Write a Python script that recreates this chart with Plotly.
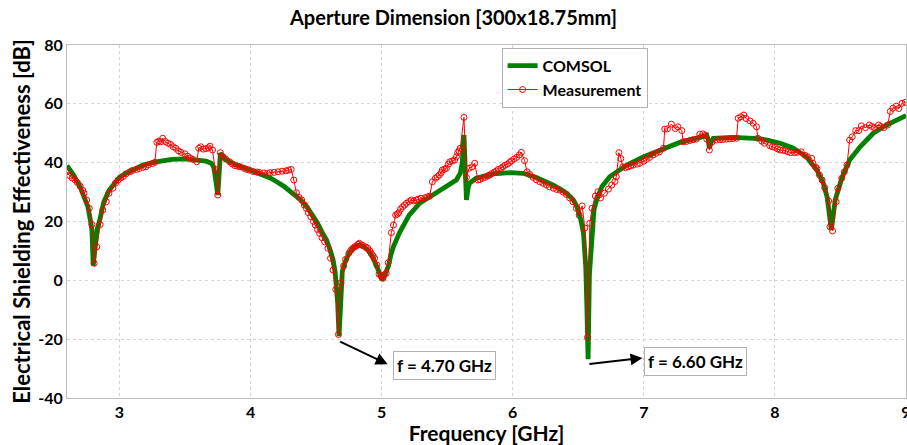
import plotly.graph_objects as go

comsol_f = [2.60, 2.65, 2.70, 2.73, 2.76, 2.78, 2.79, 2.80, 2.81, 2.83, 2.85, 2.88, 2.92, 2.96,
            3.00, 3.05, 3.10, 3.18, 3.28, 3.40, 3.50, 3.60, 3.66, 3.70, 3.72, 3.735, 3.75, 3.76,
            3.77, 3.80, 3.85, 3.92, 4.00, 4.07, 4.15, 4.20, 4.26, 4.32, 4.38, 4.43, 4.47, 4.51,
            4.55, 4.58, 4.61, 4.63, 4.645, 4.655, 4.665, 4.675, 4.685, 4.69, 4.70, 4.72, 4.75,
            4.79, 4.83, 4.87, 4.90, 4.93, 4.96, 4.98, 5.00, 5.015, 5.03, 5.05, 5.07, 5.09, 5.14,
            5.21, 5.29, 5.39, 5.49, 5.57, 5.60, 5.615, 5.628, 5.638, 5.647, 5.66, 5.67, 5.72,
            5.78, 5.85, 5.98, 6.08, 6.18, 6.25, 6.31, 6.41, 6.46, 6.49, 6.52, 6.54, 6.557, 6.565,
            6.575, 6.585, 6.595, 6.61, 6.62, 6.64, 6.68, 6.74, 6.82, 6.87, 7.00, 7.12, 7.27,
            7.43, 7.48, 7.49, 7.50, 7.515, 7.53, 7.68, 7.83, 7.88, 7.95, 8.04, 8.14, 8.24, 8.32,
            8.37, 8.40, 8.42, 8.43, 8.445, 8.46, 8.51, 8.57, 8.65, 8.75, 8.85, 8.92, 9.00]
comsol_db = [39.0, 35.8, 31.8, 28.5, 25.0, 20.0, 17.0, 5.0, 10.0, 17.5, 20.5, 26.5, 30.5, 33.0,
             35.0, 36.4, 37.6, 39.2, 40.3, 41.1, 41.3, 41.0, 40.5, 39.8, 38.5, 34.0, 29.0, 36.0,
             43.2, 41.5, 40.0, 38.8, 37.5, 36.3, 34.8, 33.5, 31.8, 29.6, 27.5, 25.0, 22.5, 19.5,
             16.0, 13.7, 10.0, 6.9, 3.0, -2.0, -8.0, -19.0, -6.0, 0.0, 3.0, 6.0, 9.2,
             11.3, 12.0, 11.2, 10.0, 8.0, 5.5, 3.0, 0.2, 1.0, 2.5, 4.6, 8.5, 11.5, 16.5,
             22.2, 26.2, 29.0, 31.8, 34.1, 36.4, 40.0, 49.4, 38.0, 27.3, 31.5, 33.0, 34.7,
             35.5, 36.2, 36.6, 36.4, 35.0, 33.8, 32.4, 29.6, 27.5, 25.0, 20.5, 16.0, 4.6, -8.0,
             -26.8, 2.0, 10.0, 19.0, 24.0, 27.3, 31.8, 35.2, 37.5, 39.2, 42.0, 44.3, 46.8,
             48.6, 49.3, 48.0, 44.9, 47.0, 48.3, 48.6, 48.5, 48.2, 47.6, 46.6, 44.9, 42.0, 37.5,
             33.0, 28.0, 22.0, 17.1, 22.0, 27.3, 34.7, 40.9, 45.4, 50.0, 52.8, 54.5, 56.0]

meas_f = [2.60, 2.62, 2.64, 2.66, 2.68, 2.70, 2.72, 2.73, 2.75, 2.77, 2.79, 2.807, 2.827, 2.853,
          2.873, 2.90, 2.92, 2.95, 2.97, 2.99, 3.01, 3.03, 3.05, 3.08, 3.10, 3.13, 3.15, 3.18,
          3.20, 3.22, 3.25, 3.27, 3.285, 3.30, 3.315, 3.33, 3.35, 3.37, 3.39, 3.41, 3.43, 3.45,
          3.47, 3.50, 3.52, 3.54, 3.56, 3.59, 3.605, 3.62, 3.64, 3.66, 3.68, 3.69, 3.71, 3.73,
          3.75, 3.77, 3.79, 3.81, 3.84, 3.86, 3.88, 3.90, 3.92, 3.95, 3.97, 3.99, 4.02, 4.05,
          4.07, 4.10, 4.13, 4.15, 4.18, 4.21, 4.24, 4.27, 4.29, 4.31, 4.33, 4.35, 4.37, 4.39,
          4.41, 4.425, 4.44, 4.46, 4.48, 4.494, 4.51, 4.527, 4.545, 4.565, 4.59, 4.61, 4.63,
          4.65, 4.67, 4.69, 4.71, 4.725, 4.75, 4.765, 4.78, 4.795, 4.807, 4.82, 4.83, 4.845,
          4.86, 4.88, 4.895, 4.91, 4.92, 4.935, 4.946, 4.964, 4.98, 4.995, 5.01, 5.02, 5.035,
          5.05, 5.074, 5.09, 5.107, 5.12, 5.13, 5.145, 5.16, 5.175, 5.19, 5.21, 5.227, 5.245,
          5.265, 5.28, 5.30, 5.33, 5.35, 5.366, 5.387, 5.41, 5.425, 5.44, 5.455, 5.463, 5.48,
          5.494, 5.51, 5.52, 5.54, 5.557, 5.57, 5.58, 5.59, 5.60, 5.628, 5.647, 5.667, 5.69,
          5.71, 5.735, 5.75, 5.77, 5.79, 5.81, 5.824, 5.84, 5.86, 5.875, 5.89, 5.91, 5.926,
          5.94, 5.96, 5.977, 5.99, 6.01, 6.03, 6.05, 6.066, 6.09, 6.11, 6.13, 6.155, 6.18,
          6.206, 6.23, 6.257, 6.28, 6.31, 6.335, 6.36, 6.385, 6.41, 6.435, 6.46, 6.485, 6.507,
          6.53, 6.55, 6.57, 6.588, 6.605, 6.63, 6.65, 6.67, 6.70, 6.73, 6.755, 6.78, 6.79,
          6.81, 6.825, 6.84, 6.86, 6.88, 6.90, 6.92, 6.95, 6.97, 7.00, 7.02, 7.045, 7.07, 7.095,
          7.12, 7.15, 7.16, 7.18, 7.21, 7.24, 7.26, 7.29, 7.30, 7.325, 7.35, 7.375, 7.40, 7.427,
          7.45, 7.47, 7.48, 7.50, 7.52, 7.555, 7.58, 7.605, 7.63, 7.655, 7.68, 7.707, 7.72,
          7.74, 7.763, 7.78, 7.81, 7.834, 7.86, 7.87, 7.90, 7.92, 7.96, 7.98, 8.00, 8.02, 8.04,
          8.06, 8.08, 8.10, 8.12, 8.15, 8.17, 8.20, 8.23, 8.25, 8.28, 8.29, 8.31, 8.32, 8.34,
          8.36, 8.38, 8.41, 8.42, 8.44, 8.467, 8.48, 8.51, 8.53, 8.55, 8.57, 8.59, 8.616, 8.64,
          8.66, 8.69, 8.72, 8.74, 8.76, 8.79, 8.81, 8.83, 8.86, 8.88, 8.90, 8.925, 8.945, 8.97,
          8.995]
meas_db = [36.9, 35.6, 34.8, 34.2, 33.2, 32.0, 30.6, 29.6, 27.3, 24.5, 19.0, 5.8, 11.4, 19.0,
           23.9, 26.7, 29.6, 31.3, 33.0, 34.1, 34.8, 35.3, 36.2, 36.9, 37.4, 37.7, 38.0, 38.4,
           38.6, 39.2, 39.7, 40.1, 46.9, 47.3, 47.1, 48.3, 47.2, 46.6, 46.2, 45.4, 44.9, 44.0,
           43.5, 43.0, 42.2, 41.6, 41.1, 40.3, 44.9, 45.4, 44.6, 44.8, 45.0, 45.6, 44.3, 37.7,
           29.0, 43.4, 42.0, 41.3, 40.3, 39.6, 39.0, 38.8, 38.6, 38.1, 37.7, 37.5, 37.0, 36.8,
           36.6, 36.5, 36.4, 36.6, 36.7, 36.9, 37.1, 37.2, 37.5, 37.7, 34.1, 29.8, 28.2, 27.3,
           25.6, 24.5, 23.0, 21.6, 20.0, 18.8, 17.3, 16.0, 14.5, 13.1, 10.9, 7.5, 3.5,
           -3.1, -18.4, -0.8, 4.9, 7.1, 9.2, 10.2, 10.9, 11.4, 11.7, 12.2, 12.6, 12.1,
           11.8, 11.3, 10.9, 10.0, 9.2, 8.3, 7.5, 5.2, 2.1, 1.5, 0.7, 1.8, 2.4,
           6.0, 16.2, 18.8, 22.2, 22.5, 23.0, 24.2, 25.0, 25.6, 26.2, 26.8, 27.3, 27.0,
           27.3, 27.6, 27.9, 28.1, 28.4, 28.6, 33.5, 34.7, 35.2, 35.8, 36.6, 37.5, 37.8,
           38.1, 39.5, 40.3, 40.6, 40.9, 42.0, 43.4, 44.0, 44.9, 55.4, 35.0, 38.1, 38.6,
           39.8, 34.1, 34.3, 34.7, 35.0, 35.5, 35.8, 36.3, 36.8, 37.2, 37.7, 38.1, 38.6,
           39.1, 39.5, 40.1, 40.6, 41.2, 41.8, 42.6, 43.5, 40.7, 36.9, 36.0, 35.0, 34.2,
           33.5, 33.0, 32.4, 31.8, 31.3, 30.9, 30.7, 30.0, 29.2, 28.0, 26.7, 24.5, 22.2,
           25.3, 17.8, -19.4, 19.4, 24.5, 28.7, 30.1, 28.0, 29.6, 31.0, 32.4, 33.6, 35.2,
           43.4, 41.4, 38.6, 38.3, 38.6, 38.9, 39.2, 39.5, 39.8, 40.5, 41.1, 41.8, 42.6, 43.2,
           43.7, 44.9, 51.4, 51.5, 53.1, 51.6, 52.2, 50.9, 47.1, 47.2, 47.5, 47.8, 48.0, 49.7,
           49.8, 49.3, 48.0, 44.3, 47.0, 47.7, 47.8, 47.9, 48.0, 48.1, 48.2, 48.3, 55.1,
           55.6, 56.2, 55.0, 54.2, 53.4, 52.2, 48.3, 47.3, 46.6, 45.8, 45.4, 45.2, 44.7, 44.3,
           44.2, 44.1, 43.7, 43.4, 43.4, 43.5, 43.7, 42.5, 42.0, 41.5, 39.8, 38.5, 38.0, 35.8,
           34.1, 31.5, 27.0, 18.2, 16.8, 26.7, 31.3, 34.7, 36.9, 39.2, 47.7, 48.8, 50.9, 50.9,
           52.5, 51.9, 52.8, 52.3, 51.9, 52.8, 52.3, 51.9, 52.8, 57.4, 58.5, 59.2, 58.4, 60.2,
           60.5]

x_ticks = [3, 4, 5, 6, 7, 8, 9]
y_ticks = [-40, -20, 0, 20, 40, 60, 80]

FONT = "Lato"
W = 700

fig = go.Figure()
fig.add_trace(go.Scatter(x=comsol_f, y=comsol_db, mode="lines", name="COMSOL",
                         line=dict(color="#008000", width=4.8)))
fig.add_trace(go.Scatter(x=meas_f, y=meas_db, mode="lines+markers", name="Measurement",
                         line=dict(color="#ff0000", width=1),
                         marker=dict(symbol="circle-open", size=6, color="#ff0000",
                                     line=dict(width=1, color="#ff0000"))))

# arrows (head pointing toward the label boxes)
fig.add_annotation(x=5.046, y=-28.5, ax=4.672, ay=-20.6, xref="x", yref="y",
                   axref="x", ayref="y", text="", showarrow=True,
                   arrowhead=2, arrowsize=1.2, arrowwidth=2, arrowcolor="black")
fig.add_annotation(x=6.99, y=-26.4, ax=6.573, ay=-28.5, xref="x", yref="y",
                   axref="x", ayref="y", text="", showarrow=True,
                   arrowhead=2, arrowsize=1.2, arrowwidth=2, arrowcolor="black")
fig.add_annotation(x=5.477, y=-28.8, xref="x", yref="y", text="f = 4.70 GHz",
                   showarrow=False, bordercolor="#b0b0b0", borderwidth=1, borderpad=3,
                   bgcolor="white", font=dict(family=FONT, size=17, color="black", weight=W))
fig.add_annotation(x=7.393, y=-27.6, xref="x", yref="y", text="f = 6.60 GHz",
                   showarrow=False, bordercolor="#b0b0b0", borderwidth=1, borderpad=3,
                   bgcolor="white", font=dict(family=FONT, size=17, color="black", weight=W))

fig.update_layout(
    width=907, height=445,
    margin=dict(l=67, r=1, t=45, b=47, autoexpand=False),
    paper_bgcolor="white", plot_bgcolor="white",
    title=dict(text="Aperture Dimension [300x18.75mm]", x=0.5, xanchor="center",
               y=0.96, yanchor="middle",
               font=dict(family=FONT, size=20, color="black", weight=W)),
    font=dict(family=FONT, color="black"),
    legend=dict(x=0.518, y=0.992, xanchor="left", yanchor="top",
                bgcolor="white", bordercolor="#b0b0b0", borderwidth=1,
                font=dict(family=FONT, size=16, color="black", weight=W),
                itemwidth=30, tracegroupgap=0),
    showlegend=True,
)
fig.update_xaxes(range=[2.6, 9], tickvals=x_ticks,
                 ticktext=[str(t) for t in x_ticks],
                 tickfont=dict(family=FONT, size=16, color="black", weight=W),
                 ticklabeloverflow="allow", automargin=False,
                 showgrid=True, gridcolor="#d4d4d4", griddash="dot", gridwidth=1,
                 showline=True, linecolor="#bdbdbd", linewidth=1, mirror=True,
                 zeroline=False, ticks="",
                 title=dict(text="Frequency [GHz]", standoff=5,
                            font=dict(family=FONT, size=21, color="black", weight=W)))
fig.update_yaxes(range=[-40, 80], tickvals=y_ticks,
                 ticktext=[str(t) for t in y_ticks],
                 tickfont=dict(family=FONT, size=16, color="black", weight=W),
                 automargin=False,
                 showgrid=True, gridcolor="#d4d4d4", griddash="dot", gridwidth=1,
                 showline=True, linecolor="#bdbdbd", linewidth=1, mirror=True,
                 zeroline=False, ticks="",
                 title=dict(text="Electrical Shielding Effectiveness [dB]", standoff=1,
                            font=dict(family=FONT, size=22, color="black", weight=W)))

fig.write_html("out.html")
